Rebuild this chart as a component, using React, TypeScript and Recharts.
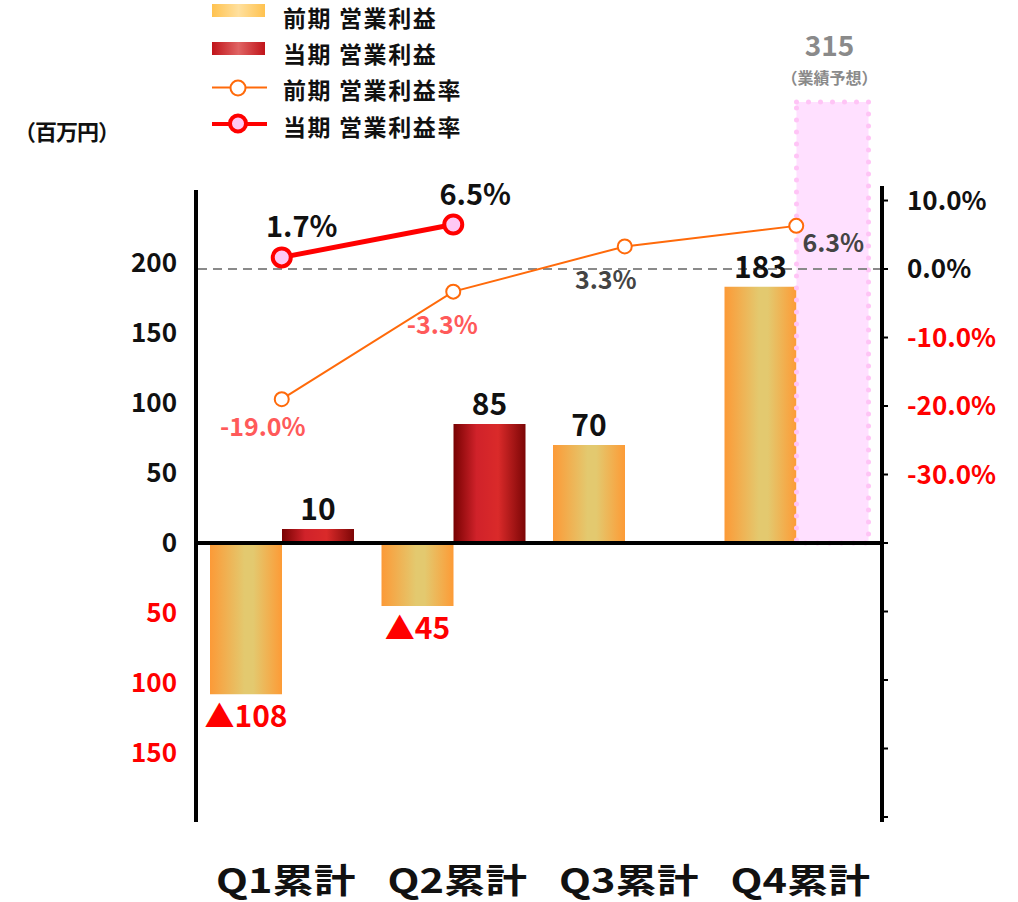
import React from 'react';
import {
  Bar,
  ComposedChart,
  LabelList,
  Line,
  ReferenceLine,
  XAxis,
  YAxis,
} from 'recharts';

// values (百万円 / %)
const categories = ['Q1累計', 'Q2累計', 'Q3累計', 'Q4累計'];
const priorProfit = [-108, -45, 70, 183];
const currentProfit: (number | null)[] = [10, 85, null, null];
const forecastProfit: (number | null)[] = [null, null, null, 315];
const priorMargin = [-19.0, -3.3, 3.3, 6.3];
const currentMargin: (number | null)[] = [1.7, 6.5, null, null];

const leftTicks = [-150, -100, -50, 0, 50, 100, 150, 200];
const rightTicks = [-80, -70, -60, -50, -40, -30, -20, -10, 0, 10];
const rightLabelFloor = -30;

const legendItems = ['前期 営業利益', '当期 営業利益', '前期 営業利益率', '当期 営業利益率'];

// label nudges (dx, dy of text baseline from point)
const priorRateNudge = [
  [-19, 37],
  [-11, 42],
  [-19, 43],
  [37, 26],
];
const currentRateNudge = [
  [20, -20],
  [22, -20],
];

const FONT = '"Noto Sans CJK JP", "Noto Sans", sans-serif';
const W = 1018;
const H = 902;

const rows = categories.map((cat, i) => ({
  cat,
  prior: priorProfit[i],
  current: currentProfit[i],
  forecast: forecastProfit[i],
  priorRate: priorMargin[i],
  currentRate: currentMargin[i],
}));

const fmtPct = (v: number) => `${v < 0 ? '-' : ''}${Math.abs(v).toFixed(1)}%`;

function BarValue(props: any) {
  const { x, y, width, height, value } = props;
  if (value == null) return null;
  const top = Math.min(y, y + height);
  const bottom = Math.max(y, y + height);
  const cx = x + width / 2;
  if (value < 0) {
    return (
      <text x={cx} y={bottom + 33} textAnchor="middle" fill="#ff0000" fontSize={30} fontWeight={700} fontFamily={FONT}>
        ▲{Math.abs(value)}
      </text>
    );
  }
  return (
    <text x={cx} y={top - 9} textAnchor="middle" fill="#111" fontSize={30} fontWeight={700} fontFamily={FONT}>
      {value}
    </text>
  );
}

function ForecastValue(props: any) {
  const { x, y, width, height, value } = props;
  if (value == null) return null;
  const top = Math.min(y, y + height);
  const cx = x + width / 2 - 3;
  return (
    <g fontFamily={FONT} fontWeight={700} textAnchor="middle" fill="#8a8a8a">
      <text x={cx} y={top - 46} fontSize={28}>
        {value}
      </text>
      <text x={cx} y={top - 18} fontSize={16}>
        （業績予想）
      </text>
    </g>
  );
}

function PriorRateLabel(props: any) {
  const { x, y, value, index } = props;
  if (value == null) return null;
  const [dx, dy] = priorRateNudge[index] ?? [0, 30];
  return (
    <text x={x + dx} y={y + dy} textAnchor="middle" fontSize={25} fontWeight={700} fontFamily={FONT}
      fill={value < 0 ? '#ff5a5a' : '#444'}>
      {fmtPct(value)}
    </text>
  );
}

function CurrentRateLabel(props: any) {
  const { x, y, value, index } = props;
  if (value == null) return null;
  const [dx, dy] = currentRateNudge[index] ?? [0, -20];
  return (
    <text x={x + dx} y={y + dy} textAnchor="middle" fontSize={29} fontWeight={700} fontFamily={FONT} fill="#111">
      {fmtPct(value)}
    </text>
  );
}

function LeftTick(props: any) {
  const { x, y, payload } = props;
  const v = payload.value as number;
  return (
    <text x={x} y={y} dy="0.36em" textAnchor="end" fontSize={26} fontWeight={700} fontFamily={FONT}
      fill={v < 0 ? '#ff0000' : '#111'}>
      {Math.abs(v)}
    </text>
  );
}

function RightTick(props: any) {
  const { x, y, payload } = props;
  const v = payload.value as number;
  if (v < rightLabelFloor) return null;
  return (
    <text x={x} y={y} dy="0.36em" textAnchor="start" fontSize={26} fontWeight={700} fontFamily={FONT}
      fill={v < 0 ? '#ff0000' : '#111'}>
      {fmtPct(v)}
    </text>
  );
}

function CatTick(props: any) {
  const { x, y, payload } = props;
  return (
    <text transform={`translate(${x + 4},${y + 71}) scale(1.22,1)`} textAnchor="middle" fontSize={34}
      fontWeight={700} fontFamily={FONT} fill="#111">
      {payload.value}
    </text>
  );
}

function LegendBlock() {
  const tx = 283;
  const base = [27, 63, 99, 136];
  return (
    <svg width={W} height={150} style={{ position: 'absolute', left: 0, top: 0, pointerEvents: 'none' }}>
      <defs>
        <linearGradient id="lgPrior" x1="0" y1="0" x2="1" y2="0">
          <stop offset="0" stopColor="#ffc24f" />
          <stop offset="0.5" stopColor="#ffe09e" />
          <stop offset="1" stopColor="#ffc24f" />
        </linearGradient>
        <linearGradient id="lgCur" x1="0" y1="0" x2="1" y2="0">
          <stop offset="0" stopColor="#c0141a" />
          <stop offset="0.5" stopColor="#e06464" />
          <stop offset="1" stopColor="#c0141a" />
        </linearGradient>
      </defs>
      <rect x={212} y={4} width={53} height={13} fill="url(#lgPrior)" />
      <rect x={212} y={42} width={53} height={13} fill="url(#lgCur)" />
      <line x1={212} x2={267} y1={87.5} y2={87.5} stroke="#ff6a0a" strokeWidth={2} />
      <circle cx={238} cy={88} r={7.5} fill="#fff" stroke="#ff6a0a" strokeWidth={2} />
      <line x1={212} x2={267} y1={124} y2={124} stroke="#ff0000" strokeWidth={4} />
      <circle cx={238} cy={123.5} r={8} fill="#ffc8f4" stroke="#ff0000" strokeWidth={4} />
      <g fontFamily={FONT} fontWeight={700} fontSize={23} fill="#111" letterSpacing={1.6}>
        {legendItems.map((t, i) => (
          <text key={t} x={tx} y={base[i]}>
            {t}
          </text>
        ))}
      </g>
      <text x={14} y={140} fontFamily={FONT} fontWeight={700} fontSize={22} fill="#111" letterSpacing={-1}>
        （百万円）
      </text>
    </svg>
  );
}

export default function App() {
  return (
    <div style={{ position: 'absolute', left: 0, top: 0, width: W, height: H, background: '#fff' }}>
      <ComposedChart
        width={W}
        height={H}
        data={rows}
        margin={{ top: 96, right: 0, bottom: 0, left: 0 }}
        barGap={0}
        barSize={72}
      >
        <defs>
          <linearGradient id="gPrior" x1="0" y1="0" x2="1" y2="0">
            <stop offset="0" stopColor="#fc9a37" />
            <stop offset="0.48" stopColor="#e3c96f" />
            <stop offset="0.6" stopColor="#e3c96f" />
            <stop offset="1" stopColor="#fd9b36" />
          </linearGradient>
          <linearGradient id="gCur" x1="0" y1="0" x2="1" y2="0">
            <stop offset="0" stopColor="#780202" />
            <stop offset="0.32" stopColor="#d0222a" />
            <stop offset="0.62" stopColor="#da2a2a" />
            <stop offset="1" stopColor="#7c0606" />
          </linearGradient>
        </defs>
        <XAxis
          dataKey="cat"
          height={80}
          axisLine={false}
          tickLine={false}
          tickSize={0}
          tickMargin={0}
          interval={0}
          tick={CatTick}
        />
        <YAxis
          yAxisId="left"
          orientation="left"
          width={196}
          type="number"
          domain={[-199.3, 319.3]}
          allowDataOverflow
          ticks={leftTicks}
          interval={0}
          tickLine={false}
          tickSize={0}
          tickMargin={19}
          axisLine={{ stroke: '#000', strokeWidth: 4, strokeDasharray: '0 94 800' }}
          tick={LeftTick}
        />
        <YAxis
          yAxisId="right"
          orientation="right"
          width={136}
          type="number"
          domain={[-80.73, 25.26]}
          allowDataOverflow
          ticks={rightTicks}
          interval={0}
          tickSize={6}
          tickMargin={19}
          tickLine={{ stroke: '#000', strokeWidth: 2 }}
          axisLine={{ stroke: '#000', strokeWidth: 4, strokeDasharray: '0 90 800' }}
          tick={RightTick}
        />
        <ReferenceLine yAxisId="right" y={0} stroke="#8a8a8a" strokeWidth={2} strokeDasharray="9 6" />
        <Bar yAxisId="left" dataKey="prior" stackId="prior" fill="url(#gPrior)" isAnimationActive={false}>
          <LabelList dataKey="prior" content={BarValue} />
        </Bar>
        <Bar yAxisId="left" dataKey="current" stackId="cur" fill="url(#gCur)" isAnimationActive={false}>
          <LabelList dataKey="current" content={BarValue} />
        </Bar>
        <Bar
          yAxisId="left"
          dataKey="forecast"
          stackId="cur"
          fill="#ffe0ff"
          stroke="#ffc4f6"
          strokeWidth={5}
          strokeDasharray="0 12"
          strokeLinecap="round"
          isAnimationActive={false}
        >
          <LabelList dataKey="forecast" content={ForecastValue} />
        </Bar>
        <ReferenceLine yAxisId="left" y={0} stroke="#000" strokeWidth={4} />
        <Line
          yAxisId="right"
          dataKey="priorRate"
          type="linear"
          stroke="#ff6a0a"
          strokeWidth={2}
          dot={{ r: 7, fill: '#fff', stroke: '#ff6a0a', strokeWidth: 2 }}
          activeDot={false}
          isAnimationActive={false}
        >
          <LabelList dataKey="priorRate" content={PriorRateLabel} />
        </Line>
        <Line
          yAxisId="right"
          dataKey="currentRate"
          type="linear"
          stroke="#ff0000"
          strokeWidth={5}
          dot={{ r: 9, fill: '#ffc8f4', stroke: '#ff0000', strokeWidth: 4 }}
          activeDot={false}
          isAnimationActive={false}
        >
          <LabelList dataKey="currentRate" content={CurrentRateLabel} />
        </Line>
      </ComposedChart>
      <LegendBlock />
    </div>
  );
}
